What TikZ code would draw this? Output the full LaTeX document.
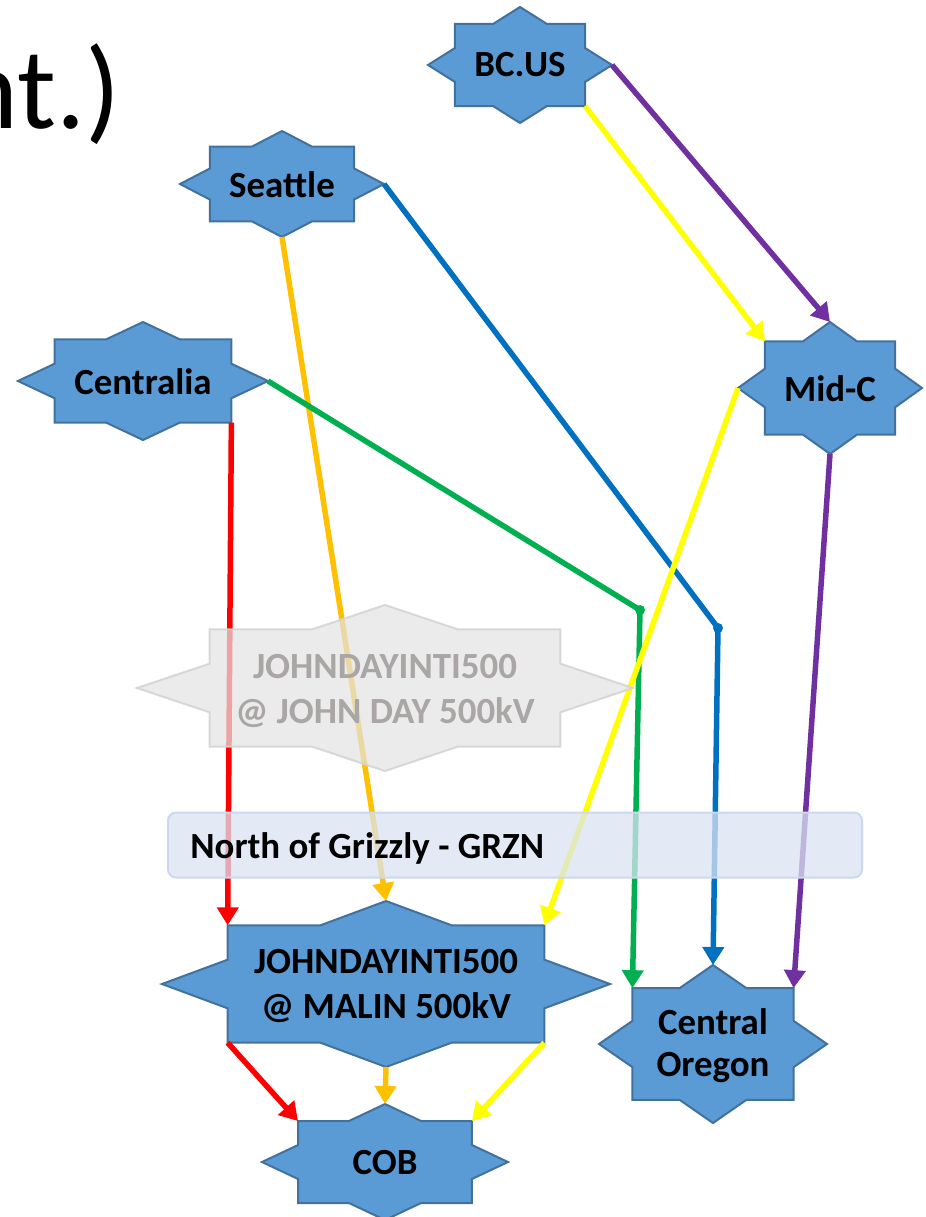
\documentclass[tikz,border=0pt]{standalone}
\usepackage{fontspec}
\setmainfont{Carlito}
\usetikzlibrary{arrows.meta}
\definecolor{starfill}{RGB}{91,155,213}
\definecolor{stardraw}{RGB}{65,113,156}
\definecolor{cRed}{RGB}{255,0,0}
\definecolor{cOrange}{RGB}{255,192,0}
\definecolor{cYellow}{RGB}{255,255,0}
\definecolor{cPurple}{RGB}{112,48,160}
\definecolor{cBlue}{RGB}{0,112,192}
\definecolor{cGreen}{RGB}{0,176,80}
\definecolor{fadefill}{RGB}{228,227,227}
\definecolor{fadedraw}{RGB}{212,212,212}
\definecolor{fadetext}{RGB}{170,166,166}
\definecolor{bandfill}{RGB}{218,227,243}
\definecolor{banddraw}{RGB}{205,216,238}
% name, cx, cy, half width, half height, style
\newcommand{\eightstar}[6]{%
  \path[#6] ({#2},{#3-#5}) -- ({#2+0.293*#4},{#3-0.707*#5}) -- ({#2+0.707*#4},{#3-0.707*#5})
    -- ({#2+0.707*#4},{#3-0.293*#5}) -- ({#2+#4},{#3}) -- ({#2+0.707*#4},{#3+0.293*#5})
    -- ({#2+0.707*#4},{#3+0.707*#5}) -- ({#2+0.293*#4},{#3+0.707*#5}) -- ({#2},{#3+#5})
    -- ({#2-0.293*#4},{#3+0.707*#5}) -- ({#2-0.707*#4},{#3+0.707*#5}) -- ({#2-0.707*#4},{#3+0.293*#5})
    -- ({#2-#4},{#3}) -- ({#2-0.707*#4},{#3-0.293*#5}) -- ({#2-0.707*#4},{#3-0.707*#5})
    -- ({#2-0.293*#4},{#3-0.707*#5}) -- cycle;
  \coordinate (#1-n) at ({#2},{#3-#5});
  \coordinate (#1-s) at ({#2},{#3+#5});
  \coordinate (#1-e) at ({#2+#4},{#3});
  \coordinate (#1-w) at ({#2-#4},{#3});
  \coordinate (#1-ne) at ({#2+0.707*#4},{#3-0.707*#5});
  \coordinate (#1-nw) at ({#2-0.707*#4},{#3-0.707*#5});
  \coordinate (#1-se) at ({#2+0.707*#4},{#3+0.707*#5});
  \coordinate (#1-sw) at ({#2-0.707*#4},{#3+0.707*#5});
}
\tikzset{
  solidstar/.style={fill=starfill, draw=stardraw, line width=0.04cm, line join=miter},
  fadestar/.style={fill=fadefill, fill opacity=0.72, draw=fadedraw, draw opacity=0.9, line width=0.04cm},
  lbl/.style={font=\fontsize{21}{26}\selectfont\bfseries, align=center, inner sep=0pt, text=black},
  fadelbl/.style={lbl, text=fadetext},
  conn/.style={line width=0.11cm, -{Triangle[length=0.36cm,width=0.42cm]}},
  link/.style={line width=0.11cm},
  joint/.style={circle, fill, inner sep=0pt, minimum size=0.2cm},
  band/.style={fill=bandfill, fill opacity=0.75, draw=banddraw, line width=0.04cm, rounded corners=0.16cm},
}
\begin{document}
\begin{tikzpicture}[x=0.02cm, y=-0.02cm]
\useasboundingbox (0,0) rectangle (926,1217);

\node[anchor=base east, inner sep=0pt, font=\fontsize{66}{72}\selectfont] (title) at (121,128) {nt.)};

% stars
\eightstar{bcus}{520}{65}{92}{58}{solidstar}
\node[lbl] (bcusT) at (520,65) {BC.US};
\eightstar{seattle}{282}{184}{102}{53}{solidstar}
\node[lbl] (seattleT) at (282,185) {Seattle};
\eightstar{centralia}{143}{381}{125}{59}{solidstar}
\node[lbl] (centraliaT) at (143,382) {Centralia};
\eightstar{midc}{830}{388}{92}{66}{solidstar}
\node[lbl] (midcT) at (830,389) {Mid-C};
\eightstar{malin}{386}{984}{224}{83}{solidstar}
\node[lbl] (malinT) at (386,986) {JOHNDAYINTI500\\@ MALIN 500kV};
\eightstar{cor}{713}{1044}{114}{79}{solidstar}
\node[lbl, font=\fontsize{21}{24}\selectfont\bfseries] (corT) at (713,1046) {Central\\Oregon};
\eightstar{cob}{385}{1162}{123}{58}{solidstar}
\node[lbl] (cobT) at (385,1163) {COB};

% junctions
\node[joint, cGreen] (jg) at (640,610) {};
\node[joint, cBlue] (jb) at (718,628) {};

% connectors
\draw[conn, cPurple] (bcus-e) -- (midc-n);
\draw[conn, cYellow] (bcus-se) -- (midc-nw);
\draw[link, cBlue] (seattle-e) -- (jb.center);
\draw[conn, cBlue] (jb.center) -- (cor-n);
\draw[conn, cOrange] (seattle-s) -- (malin-n);
\draw[link, cGreen] (centralia-e) -- (jg.center);
\draw[conn, cGreen] (jg.center) -- (cor-nw);
\draw[conn, cRed] (centralia-se) -- (malin-nw);
\draw[conn, cYellow] (midc-w) -- (malin-ne);
\draw[conn, cPurple] (midc-s) -- (cor-ne);
\draw[conn, cRed] (malin-sw) -- (cob-nw);
\draw[conn, cOrange] (malin-s) -- (cob-n);
\draw[conn, cYellow] (malin-se) -- (cob-ne);

% faded star
\eightstar{jday}{385}{688}{248}{83}{fadestar}
\node[fadelbl] (jdayT) at (385,691) {JOHNDAYINTI500\\@ JOHN DAY 500kV};

% band
\node[band, minimum width=694*0.02cm, minimum height=65*0.02cm, inner sep=0pt] (grzn) at (515,845) {};
\node[lbl, anchor=west] (grznT) at (190,848) {North of Grizzly - GRZN};
\end{tikzpicture}
\end{document}
